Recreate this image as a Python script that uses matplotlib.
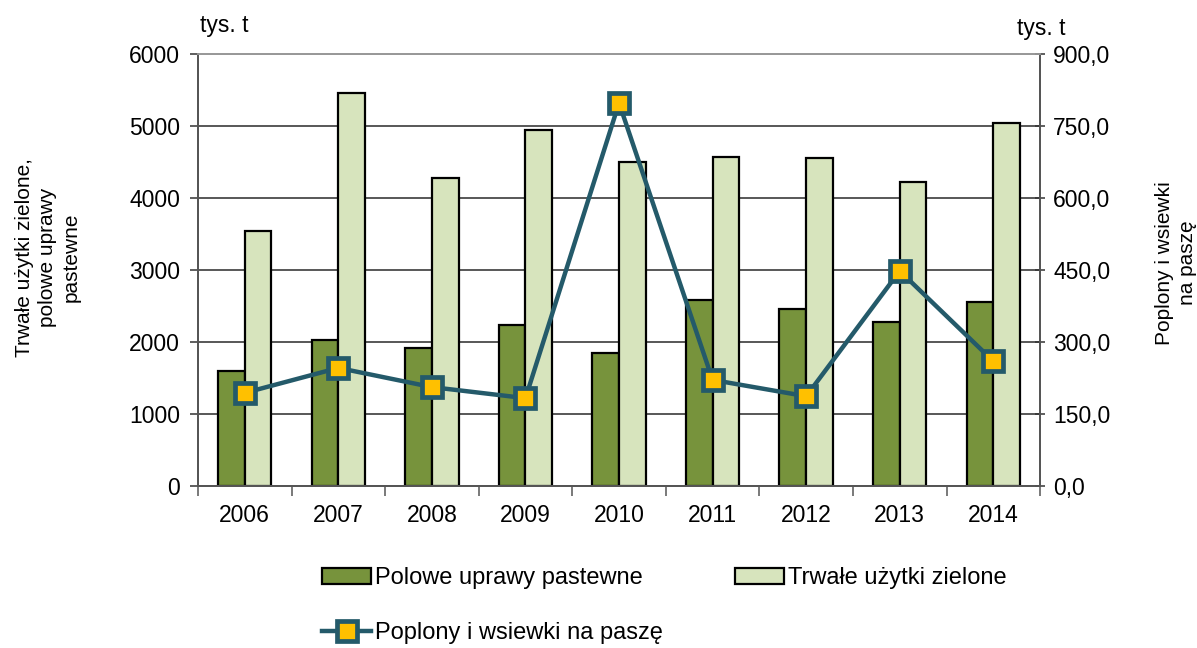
import matplotlib.pyplot as plt
import numpy as np
from matplotlib.ticker import FuncFormatter

years = ["2006", "2007", "2008", "2009", "2010", "2011", "2012", "2013", "2014"]
polowe = [1600, 2030, 1920, 2240, 1845, 2585, 2460, 2280, 2555]
trwale = [3540, 5455, 4280, 4945, 4500, 4570, 4555, 4220, 5040]
poplony = [194, 246, 206, 183, 798, 221, 187, 448, 260]

plt.rcParams["font.family"] = ["Liberation Sans", "DejaVu Sans"]

fig = plt.figure(figsize=(11.97, 6.48), dpi=100)
ax = fig.add_axes([0.1654, 0.25, 0.7035, 0.6667])
ax2 = ax.twinx()

x = np.arange(len(years))
w = 0.285
ax.bar(x - w / 2, polowe, w, color="#77933C", edgecolor="black", lw=1.6,
       label="Polowe uprawy pastewne", zorder=2)
ax.bar(x + w / 2, trwale, w, color="#D7E4BD", edgecolor="black", lw=1.6,
       label="Trwałe użytki zielone", zorder=2)
ax2.plot(x, poplony, color="#245A6A", lw=3.2, marker="s", ms=14,
         mfc="#FFC000", mec="#245A6A", mew=3.4, label="Poplony i wsiewki na paszę",
         zorder=3)

ax.set_xlim(-0.5, len(years) - 0.5)
ax.set_ylim(0, 6000)
ax.set_yticks(range(0, 6001, 1000))
ax2.set_ylim(0, 900)
ax2.set_yticks(np.arange(0, 901, 150))
ax2.yaxis.set_major_formatter(FuncFormatter(lambda v, p: f"{v:.1f}".replace(".", ",")))

ax.yaxis.grid(True, color="#2a2a2a", lw=1.1, zorder=0)
ax.set_axisbelow(True)

ax.set_xticks(x)
ax.set_xticklabels(years)
ax.set_xticks(np.arange(-0.5, len(years)), minor=True)
ax.tick_params(axis="x", which="major", length=0, pad=13, labelsize=16.5)
ax.tick_params(axis="x", which="minor", length=7, width=1.1, direction="out", color="#555555")
ax.tick_params(axis="y", length=6, width=1.1, labelsize=16.5, pad=7, color="#333333")
ax2.tick_params(axis="y", length=7, width=1.1, labelsize=16.5, pad=6, direction="inout", color="#333333")

for a in (ax, ax2):
    for s in a.spines.values():
        s.set_color("#555555")
        s.set_linewidth(1.3)
ax.spines["top"].set_color("#999999")
ax2.spines["top"].set_color("#999999")

fig.text(0.040, 0.603, "Trwałe użytki zielone,\npolowe uprawy\npastewne", rotation=90,
         ha="center", va="center", fontsize=15, linespacing=1.3)
fig.text(0.9825, 0.594, "Poplony i wsiewki\nna paszę", rotation=90,
         ha="center", va="center", fontsize=15, linespacing=1.3)
fig.text(0.167, 0.960, "tys. t", ha="left", va="center", fontsize=16.5)
fig.text(0.850, 0.956, "tys. t", ha="left", va="center", fontsize=16.5)

h1, l1 = ax.get_legend_handles_labels()
h2, l2 = ax2.get_legend_handles_labels()
fig.legend([h1[0], h2[0], h1[1]], [l1[0], l2[0], l1[1]], ncol=2,
           loc="upper left", bbox_to_anchor=(0.259, 0.143), frameon=False,
           fontsize=17, handlelength=2.1, handletextpad=0.15, columnspacing=3.05,
           labelspacing=1.4, borderpad=0)

fig.savefig("out.png", dpi=100)
